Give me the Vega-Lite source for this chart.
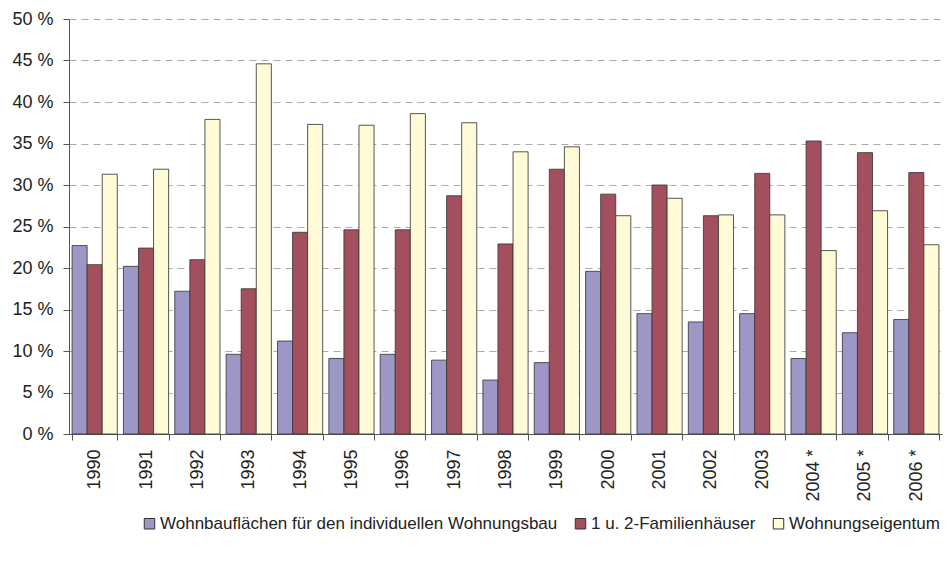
{
  "$schema": "https://vega.github.io/schema/vega-lite/v6.json",
  "width": 873,
  "height": 415,
  "autosize": {"type": "none"},
  "padding": {"left": 69, "top": 19, "right": 10, "bottom": 128},
  "background": "white",
  "config": {
    "font": "Liberation Sans",
    "view": {"stroke": null}
  },
  "datasets": {
    "raw": [
      {"year": "1990", "a": 22.7, "b": 20.4, "c": 31.3},
      {"year": "1991", "a": 20.2, "b": 22.4, "c": 31.9},
      {"year": "1992", "a": 17.2, "b": 21.0, "c": 37.9},
      {"year": "1993", "a": 9.6, "b": 17.5, "c": 44.6},
      {"year": "1994", "a": 11.2, "b": 24.3, "c": 37.3},
      {"year": "1995", "a": 9.1, "b": 24.6, "c": 37.2},
      {"year": "1996", "a": 9.6, "b": 24.6, "c": 38.6},
      {"year": "1997", "a": 8.9, "b": 28.7, "c": 37.5},
      {"year": "1998", "a": 6.5, "b": 22.9, "c": 34.0},
      {"year": "1999", "a": 8.6, "b": 31.9, "c": 34.6},
      {"year": "2000", "a": 19.6, "b": 28.9, "c": 26.3},
      {"year": "2001", "a": 14.5, "b": 30.0, "c": 28.4},
      {"year": "2002", "a": 13.5, "b": 26.3, "c": 26.4},
      {"year": "2003", "a": 14.5, "b": 31.4, "c": 26.4},
      {"year": "2004 *", "a": 9.1, "b": 35.3, "c": 22.1},
      {"year": "2005 *", "a": 12.2, "b": 33.9, "c": 26.9},
      {"year": "2006 *", "a": 13.8, "b": 31.5, "c": 22.8}
    ]
  },
  "data": {"name": "raw"},
  "transform": [
    {"fold": ["a", "b", "c"], "as": ["key", "value"]},
    {"lookup": "key", "from": {"data": {"values": [
      {"key": "a", "series": "Wohnbauflächen für den individuellen Wohnungsbau", "ord": 0},
      {"key": "b", "series": "1 u. 2-Familienhäuser", "ord": 1},
      {"key": "c", "series": "Wohnungseigentum", "ord": 2}
    ]}, "key": "key", "fields": ["series", "ord"]}}
  ],
  "mark": {"type": "bar", "stroke": "#3a3a3a", "strokeWidth": 1, "strokeOpacity": 0.85},
  "encoding": {
    "x": {
      "field": "year", "type": "nominal", "sort": null, "title": null,
      "scale": {"paddingInner": 0.12, "paddingOuter": 0.06},
      "axis": {
        "tickBand": "extent", "labelAngle": -90, "labelFontSize": 18, "labelColor": "#222",
        "domainColor": "#555", "tickColor": "#555", "tickSize": 6, "labelPadding": 9,
        "grid": false
      }
    },
    "xOffset": {"field": "series", "type": "nominal", "sort": {"field": "ord"}, "scale": {"paddingInner": 0, "paddingOuter": 0}},
    "y": {
      "field": "value", "type": "quantitative", "title": null,
      "scale": {"domain": [0, 50], "nice": false},
      "axis": {
        "values": [0, 5, 10, 15, 20, 25, 30, 35, 40, 45, 50],
        "labelExpr": "datum.value + ' %'", "labelFontSize": 18, "labelColor": "#222",
        "domainColor": "#555", "tickColor": "#555", "tickSize": 6, "labelPadding": 10,
        "grid": true, "gridColor": "#B5AAAA", "gridDash": [7, 5], "gridWidth": 1
      }
    },
    "color": {
      "field": "series", "type": "nominal", "sort": {"field": "ord"},
      "scale": {
        "domain": ["Wohnbauflächen für den individuellen Wohnungsbau", "1 u. 2-Familienhäuser", "Wohnungseigentum"],
        "range": ["#9D97C8", "#A44F5D", "#FFFBD6"]
      },
      "legend": {
        "title": null, "orient": "none", "direction": "horizontal",
        "legendX": 72, "legendY": 496,
        "symbolType": "square", "symbolSize": 110, "symbolStrokeColor": "#333", "symbolStrokeWidth": 1,
        "labelFontSize": 17, "labelLimit": 0, "labelColor": "#222", "columnPadding": 14, "labelOffset": 2
      }
    }
  }
}
